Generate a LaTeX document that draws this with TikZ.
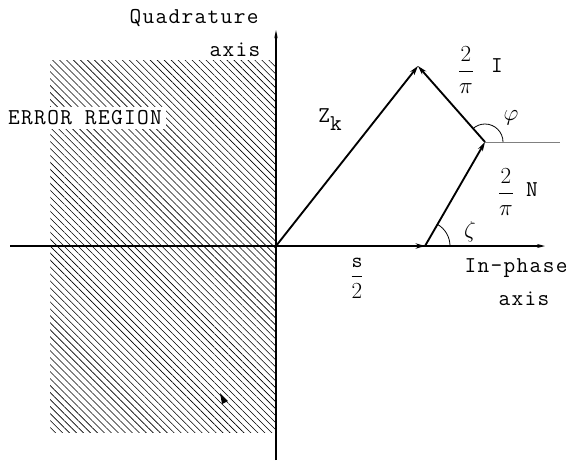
\documentclass[tikz,border=0pt]{standalone}
\usepackage{amsmath}
\usepackage{fontspec}
\setmonofont[LetterSpace=6]{Latin Modern Mono}
\usetikzlibrary{arrows.meta,patterns.meta}

\begin{document}
\begin{tikzpicture}[x=0.75pt, y=-0.75pt,
  every node/.style={font=\ttfamily\fontsize{17}{19}\selectfont, inner sep=1pt},
  frac/.style={font=\ttfamily\fontsize{16}{18}\selectfont},
  vec/.style={-{Stealth[length=7pt,width=4pt]}, line width=1.4pt},
  axisln/.style={line width=0.9pt},
  hatch/.style={pattern={Lines[angle=-45,distance=3.7pt,line width=0.45pt]}}]
\useasboundingbox (0,0) rectangle (571,461);
% points of the phasor diagram
\coordinate (O) at (276,246);
\coordinate (S) at (425,246);
\coordinate (C) at (485,142);
\coordinate (P) at (418,66);
\coordinate (xl) at (10,246);
\coordinate (xr) at (545,246);
\coordinate (yt) at (276,30);
\coordinate (yb) at (276,460);
\coordinate (Cr) at (560,142);
% error region
\fill[hatch] (50,60) rectangle (O |- 0,432);
\node[fill=white, inner sep=3pt] (err) at (85,118) {ERROR REGION};
\fill (220,393) -- (228,401) -- (222,404) -- cycle;
% axes
\draw[axisln, -{Stealth[length=6pt,width=3pt]}] (xl) -- (xr);
\draw[line width=1.5pt, -{Stealth[length=6pt,width=2.5pt]}] (yb) -- (yt);
\node (quad) at (194,18) {Quadrature};
\node[anchor=east] (qaxis) at (262,50) {axis};
\node (inph) at (516,268) {In-phase};
\node (iaxis) at (524,299) {axis};
% vectors
\foreach \a/\b in {O/S, S/C, C/P, O/P} \draw[vec] (\a) -- (\b);
\draw[line width=0.5pt, gray] (C) -- (Cr);
\draw[line width=0.6pt] (C) ++(18,0) arc[start angle=0, end angle=-131, radius=18];
\draw[line width=0.6pt] (S) ++(25,0) arc[start angle=0, end angle=-60, radius=25];
% labels
\node (zk) at (330,120) {Z\raisebox{-6pt}{k}};
\node[frac] (lIf) at (466,70) {$\dfrac{2}{\pi}$};
\node (lI) at (497,66) {I};
\node[frac] (lNf) at (506,192) {$\dfrac{2}{\pi}$};
\node (lN) at (532,190) {N};
\node (phi) at (511,118) {$\varphi$};
\node (zeta) at (470,232) {$\zeta$};
\node[frac] (half) at (357,278) {$\dfrac{\mathtt{s}}{2}$};
\end{tikzpicture}
\end{document}
